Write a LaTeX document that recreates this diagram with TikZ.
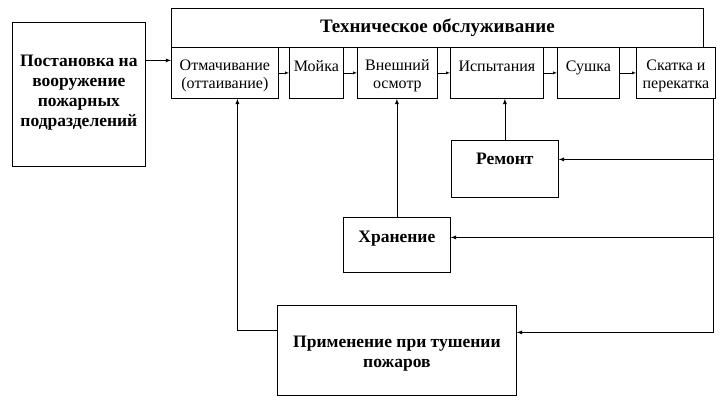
\documentclass[tikz,border=0pt]{standalone}
\usepackage{fontspec}
\setmainfont{Liberation Serif}
\usetikzlibrary{arrows}
\usetikzlibrary{positioning}
\usetikzlibrary{chains}
\newcommand{\opnode}[5][]{\node(#2)[op,minimum width=#4,#1] at (#3,47) {#5}}

\begin{document}
\begin{tikzpicture}[
        start chain,
        x=1pt, y=-1pt, >=latex,
        every node/.style={inner sep=1pt},
        big/.style={rectangle,draw=black,thick,anchor=north west,align=center,
                    font=\fontsize{17.5}{20}\selectfont\bfseries},
        op/.style={rectangle,draw=black,thick,anchor=north west,align=center,
                   minimum height=51pt,font=\fontsize{16}{18}\selectfont},
        one/.style={text depth=13pt},
        two/.style={text height=35pt}
      ]
      \useasboundingbox (0,0) rectangle (723,400);

      % Left block and the maintenance header
      \node(post)[big,minimum width=133pt,minimum height=144pt,text depth=8pt] at (12,22)
        {Постановка на\\вооружение\\пожарных\\подразделений};
      \node(tech)[big,minimum width=532pt,minimum height=39pt,
                  font=\fontsize{19}{20}\selectfont\bfseries] at (171,8) {Техническое обслуживание};

      % Row of maintenance operations
      \opnode[two]{otm}{171}{107pt}{Отмачивание\\(оттаивание)};
      \opnode[one]{moj}{289}{54pt}{Мойка};
      \opnode[two]{osm}{357}{80pt}{Внешний\\осмотр};
      \opnode[one]{isp}{450}{93pt}{Испытания};
      \opnode[one]{sus}{557}{62pt}{Сушка};
      \opnode[two]{ska}{636}{79pt}{Скатка и\\перекатка};

      % Lower blocks
      \node(rem)[big,minimum width=107pt,minimum height=57pt,text depth=20pt] at (451,140) {Ремонт};
      \node(hran)[big,minimum width=107pt,minimum height=55pt,text depth=16pt] at (343,217) {Хранение};
      \node(prim)[big,minimum width=239pt,minimum height=90pt,text height=38pt] at (277,305)
        {Применение при тушении\\пожаров};

      % Operations chained left to right
      {
        [start chain] \chainin(otm); \chainin(moj) [join=by {->}]; \chainin(osm) [join=by {->}];
        \chainin(isp) [join=by {->}]; \chainin(sus) [join=by {->}]; \chainin(ska) [join=by {->}];
      }

      % Ends of the feedback lines
      \coordinate (in) at ([yshift=12.5pt]otm.west);
      \coordinate (rt) at ([xshift=-2pt]ska.south east);
      \coordinate (up) at ([xshift=12.5pt]otm.south);
      \coordinate (remin) at ([yshift=9.5pt]rem.east);
      \coordinate (hranin) at ([yshift=7.5pt]hran.east);
      \coordinate (primin) at ([yshift=18pt]prim.east);
      \coordinate (primout) at ([yshift=20pt]prim.west);

      \draw[thick,->] (post.east |- in) -- (in);
      \draw[thick] (rt) -- (rt |- primin);
      \draw[thick,->] (rt |- remin) -- (remin);
      \draw[thick,->] (rt |- hranin) -- (hranin);
      \draw[thick,->] (rt |- primin) -- (primin);
      \draw[thick,->] (primout) -| (up);
      \draw[thick,->] (rem.north) -- (rem.north |- isp.south);
      \draw[thick,->] (hran.north) -- (hran.north |- osm.south);
    \end{tikzpicture}
\end{document}
